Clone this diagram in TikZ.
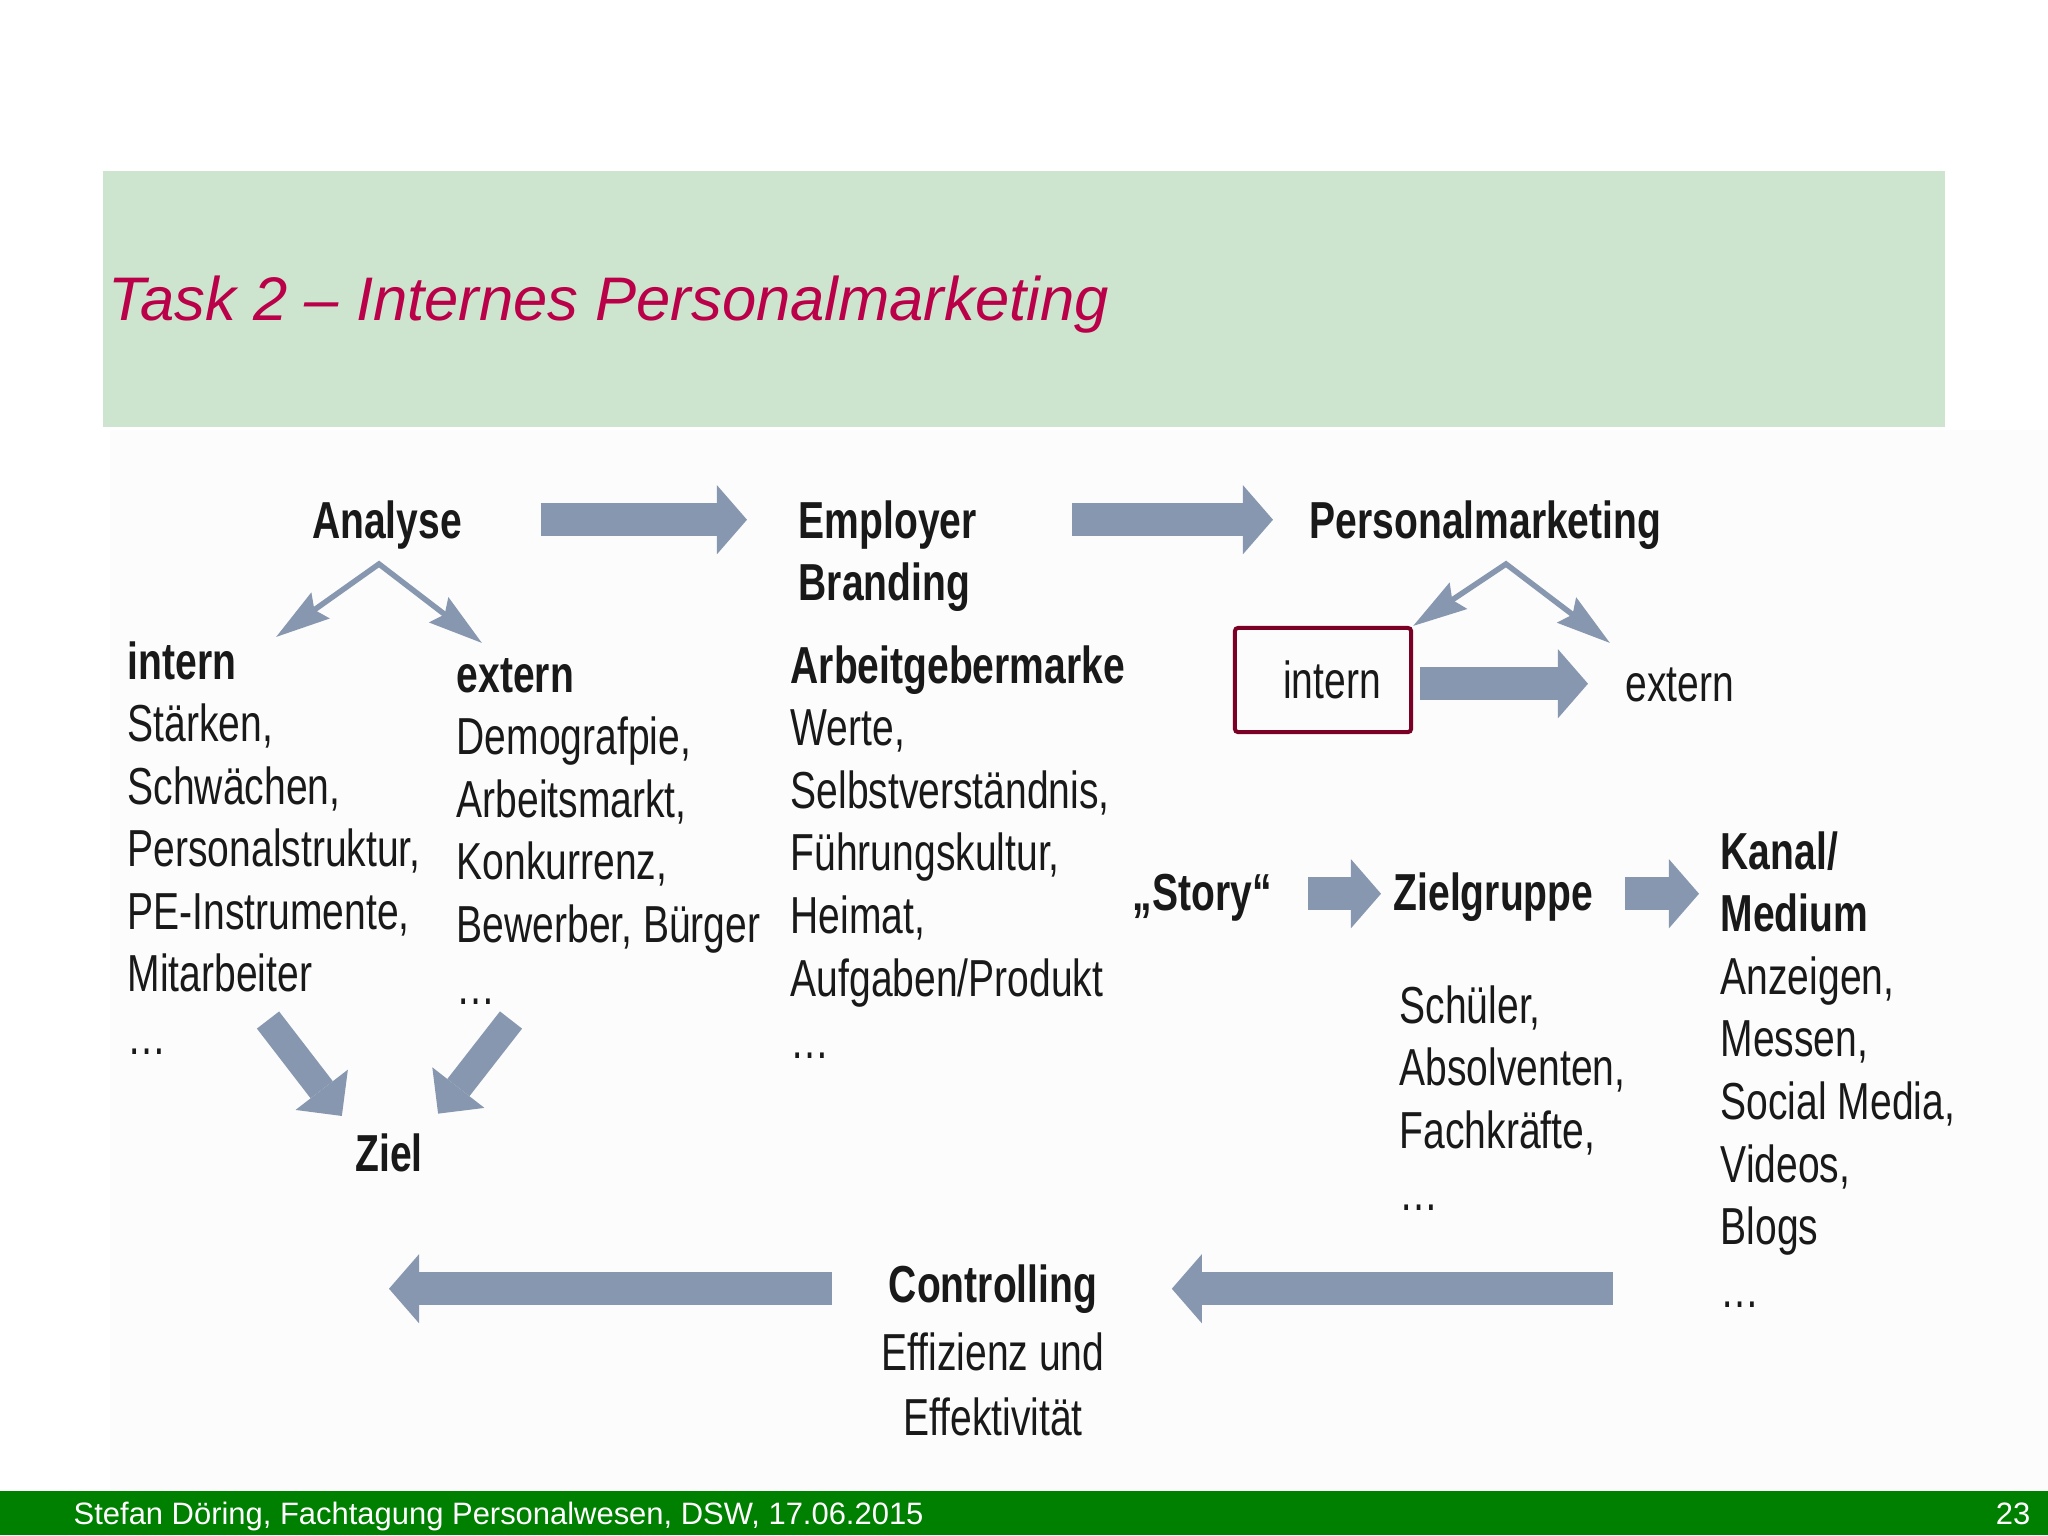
\documentclass[tikz,border=0pt]{standalone}
\usepackage{fontspec}
\setmainfont{Liberation Sans}
\newfontfamily\narrowfont[FakeStretch=0.75]{Liberation Sans}
\usepackage{tikz}
\usetikzlibrary{arrows.meta,positioning}
\definecolor{ink}{RGB}{25,25,25}
\definecolor{arrowgray}{RGB}{135,151,175}
\definecolor{titlered}{RGB}{186,0,72}
\definecolor{bandgreen}{RGB}{205,229,206}
\definecolor{footgreen}{RGB}{0,128,0}
\definecolor{boxred}{RGB}{122,0,38}
\newcommand{\dia}{\narrowfont\fontsize{14.8}{17.8}\selectfont}
\newcommand{\lines}[1]{\begin{tabular}[t]{@{}l@{}}#1\end{tabular}}
\tikzstyle{txt} = [inner sep=0pt, anchor=base west, font=\dia, text=ink]
\tikzstyle{hd} = [txt, font=\dia\bfseries]
\tikzstyle{fat} = [draw=arrowgray, line width=0.33cm, -{Triangle[length=0.30cm,width=0.69cm,line width=0pt]}]
\tikzstyle{fatd} = [draw=arrowgray, line width=0.28cm, -{Triangle[length=0.33cm,width=0.66cm,line width=0pt]}]
\tikzstyle{split} = [draw=arrowgray, line width=0.055cm, {Stealth[length=0.54cm,width=0.31cm,inset=0.07cm]}-{Stealth[length=0.54cm,width=0.31cm,inset=0.07cm]}]

\begin{document}
\begin{tikzpicture}[x=0.01cm, y=-0.01cm]
\useasboundingbox (0,0) rectangle (2048,1535);
% title band and footer
\fill[bandgreen] (103,171) rectangle (1945,427);
\node (title) [anchor=base west, inner sep=0pt, font=\fontsize{17.5}{20}\selectfont\itshape, text=titlered] at (108,320) {Task 2 – Internes Personalmarketing};
\fill[black!1] (110,430) rectangle (2048,1491);
\fill[footgreen] (0,1491) rectangle (2048,1535);
\node (foot) [anchor=base west, inner sep=0pt, font=\fontsize{8.8}{10}\selectfont, text=white] at (73,1524) {Stefan Döring, Fachtagung Personalwesen, DSW, 17.06.2015};
\node (page) [anchor=base east, inner sep=0pt, font=\fontsize{8.8}{10}\selectfont, text=white] at (2031,1524) {23};

% top row
\node (analyse) [hd, anchor=base] at (387,538) {Analyse};
\node (branding) [hd] at (798,538) {\lines{Employer\\Branding}};
\node (pmarketing) [hd] at (1309,538) {Personalmarketing};

% columns
\node (intern) [txt] at (127,679) {\lines{\textbf{intern}\\Stärken,\\Schwächen,\\Personalstruktur,\\PE-Instrumente,\\Mitarbeiter\\…}};
\node (extern) [txt] at (456,692) {\lines{\textbf{extern}\\Demografpie,\\Arbeitsmarkt,\\Konkurrenz,\\Bewerber, Bürger\\…}};
\node (marke) [txt] at (790,683) {\lines{\textbf{Arbeitgebermarke}\\Werte,\\Selbstverständnis,\\Führungskultur,\\Heimat,\\Aufgaben/Produkt\\…}};
\node (ziel) [hd, anchor=base] at (389,1171) {Ziel};

\node (ibox) [draw=boxred, line width=0.04cm, rounded corners=0.03cm, minimum width=1.76cm, minimum height=1.04cm, inner sep=0pt, font=\dia, text=ink] at (1323,680) {\hspace*{0.18cm}intern};
\node (iext) [txt] at (1625,701) {extern};

\node (story) [hd] at (1132,910) {„Story“};
\node (zgruppe) [hd] at (1393,910) {Zielgruppe};
\node (zliste) [txt] at (1399,1023) {\lines{Schüler,\\Absolventen,\\Fachkräfte,\\…}};
\node (kanal) [txt] at (1720,869) {\lines{\textbf{Kanal/}\\\textbf{Medium}\\Anzeigen,\\Messen,\\Social Media,\\Videos,\\Blogs\\…}};

\node (ctrl) [hd, anchor=base] at (993,1302) {Controlling};
\node (ctrltxt) [txt, anchor=base] at (993,1370) {\begin{tabular}[t]{@{}c@{}}Effizienz und\\[0.7pt]Effektivität\end{tabular}};

\coordinate (asplit) at (379,564);
\coordinate (aint) at (276,637);
\coordinate (aext) at (482,643);
\coordinate (psplit) at (1506,564);
\coordinate (pext) at (1610,643);
\coordinate (zl) at (268,1020);
\coordinate (zr) at (511,1020);

% arrows
\draw [fat, transform canvas={yshift=0.09cm}, shorten <=0.78cm, shorten >=0.51cm] (analyse.mid east) -- (analyse.mid east -| branding.west);
\draw [fat, transform canvas={yshift=0.09cm}, shorten <=0.95cm, shorten >=0.36cm] (branding.east |- pmarketing.mid west) -- (pmarketing.mid west);
\draw [split] (aint) -- (asplit) -- (aext);
\draw [split] (ibox.north east) -- (psplit) -- (pext);
\draw [fat, transform canvas={yshift=0.08cm}, shorten <=0.07cm, shorten >=0.37cm] (ibox.east |- iext.mid west) -- (iext.mid west);
\draw [fat, transform canvas={yshift=0.07cm}, shorten <=0.36cm, shorten >=0.12cm] (story.mid east) -- (zgruppe.mid west);
\draw [fat, transform canvas={yshift=0.07cm}, shorten <=0.31cm, shorten >=0.21cm] (zgruppe.mid east) -- (kanal.west |- zgruppe.mid east);
\draw [fatd, shorten >=0.21cm] (zl) -- (ziel.north west);
\draw [fatd, shorten >=0.24cm] (zr) -- (ziel.north east);
\draw [fat, transform canvas={yshift=0.04cm}, shorten <=1.07cm, shorten >=0.74cm] (kanal.west |- ctrl.mid east) -- (ctrl.mid east);
\draw [fat, transform canvas={yshift=0.04cm}, shorten <=0.56cm] (ctrl.mid west) -- (ctrl.mid west -| ziel.south);
\end{tikzpicture}
\end{document}
